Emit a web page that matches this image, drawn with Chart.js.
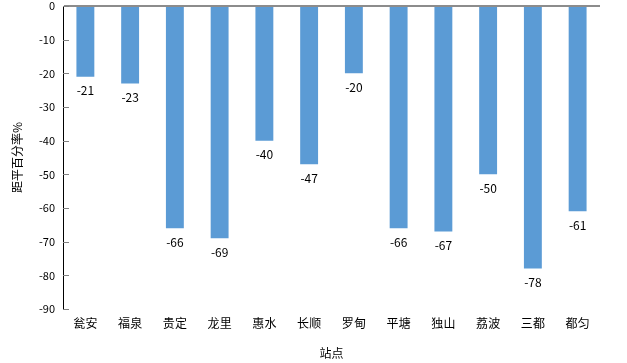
<!DOCTYPE html>
<html>
<head>
<meta charset="utf-8">
<script src="https://cdn.jsdelivr.net/npm/chart.js@4.4.0/dist/chart.umd.min.js"></script>
<style>
  html, body { margin: 0; padding: 0; background: #fff; }
  #wrap { width: 627px; height: 363px; }
</style>
</head>
<body>
<div id="wrap"><canvas id="chart"></canvas></div>
<script>
// stations and anomaly percentages
const stations = ['瓮安', '福泉', '贵定', '龙里', '惠水', '长顺', '罗甸', '平塘', '独山', '荔波', '三都', '都匀'];
const anomaly = [-21, -23, -66, -69, -40, -47, -20, -66, -67, -50, -78, -61];
const yMin = -90;
const yMax = 0;
const yStep = 10;

const font = '"Noto Sans CJK SC", "Noto Sans", sans-serif';

// small ticks pointing into the plot + value labels under the bars
const extras = {
    id: 'extras',
    afterDraw(c) {
        const ctx = c.ctx;
        const y = c.scales.y;
        ctx.save();
        ctx.strokeStyle = '#808080';
        ctx.lineWidth = 1;
        y.ticks.forEach(t => {
            const py = Math.round(y.getPixelForValue(t.value)) + 0.5;
            ctx.beginPath();
            ctx.moveTo(y.right, py);
            ctx.lineTo(y.right + 6, py);
            ctx.stroke();
        });
        ctx.fillStyle = '#000';
        ctx.font = '12px ' + font;
        ctx.textAlign = 'center';
        ctx.textBaseline = 'middle';
        c.getDatasetMeta(0).data.forEach((bar, i) => {
            ctx.fillText(String(anomaly[i]), bar.x, bar.y + 14);
        });
        ctx.restore();
    }
};

new Chart(document.querySelector('#chart'), {
    type: 'bar',
    data: {
        labels: stations,
        datasets: [{
            data: anomaly,
            backgroundColor: '#5B9BD5',
            borderWidth: 0,
            barPercentage: 0.5,
            categoryPercentage: 0.8
        }]
    },
    options: {
        responsive: true,
        maintainAspectRatio: false,
        animation: false,
        layout: { padding: { top: 6, right: 27, bottom: 0, left: 0 } },
        plugins: {
            legend: { display: false },
            tooltip: { enabled: false }
        },
        scales: {
            x: {
                grid: { display: false, drawTicks: false },
                border: { display: false },
                ticks: { color: '#000', font: { family: font, size: 12 }, padding: 7 },
                title: {
                    display: true,
                    text: '站点',
                    color: '#000',
                    font: { family: font, size: 12 },
                    padding: { top: 12, bottom: 2 }
                },
                afterFit(s) { s.height = 54; }
            },
            y: {
                min: yMin,
                max: yMax,
                ticks: {
                    stepSize: yStep,
                    color: '#000',
                    font: { family: font, size: 11 },
                    padding: 8
                },
                grid: {
                    drawTicks: false,
                    color: ctx => ctx.tick && ctx.tick.value === 0 ? '#8c8c8c' : 'rgba(0,0,0,0)',
                    lineWidth: ctx => ctx.tick && ctx.tick.value === 0 ? 2 : 0
                },
                border: { display: true, color: '#000', width: 1 },
                title: {
                    display: true,
                    text: '距平百分率%',
                    color: '#000',
                    font: { family: font, size: 12 },
                    padding: { top: 10, bottom: 6 }
                },
                afterFit(s) {
                    s.width = 63;
                    s.paddingTop = 0;
                    s.paddingBottom = 0;
                }
            }
        }
    },
    plugins: [extras]
});
</script>
</body>
</html>
